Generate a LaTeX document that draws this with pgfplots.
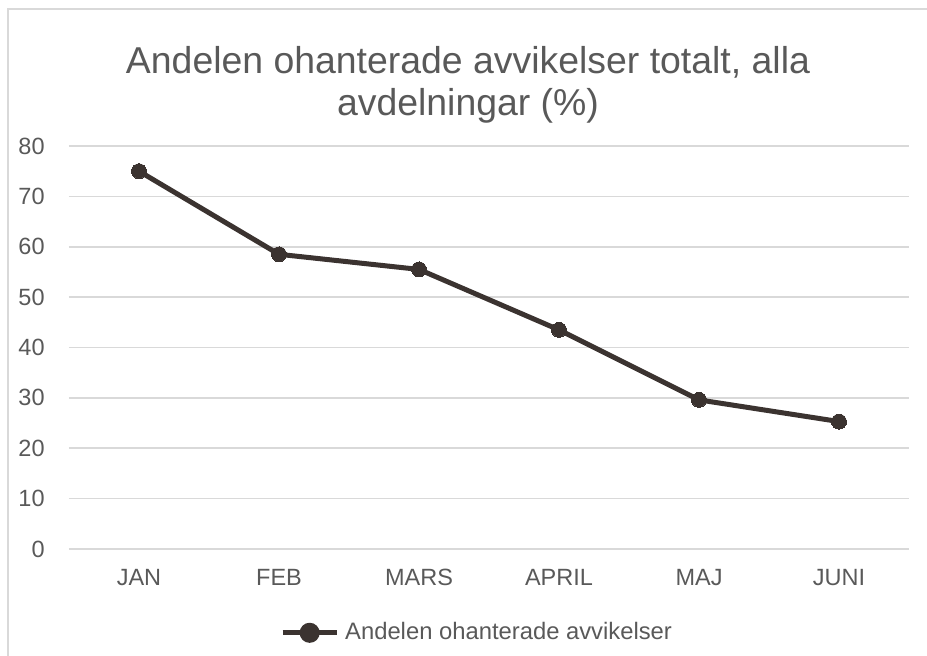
\documentclass[border=0pt]{standalone}
\usepackage{fontspec}
\setmainfont{Liberation Sans}
\usepackage{pgfplots}
\pgfplotsset{compat=1.18}

\definecolor{linecol}{HTML}{3B3330}
\definecolor{txtgray}{HTML}{595959}
\definecolor{gridgray}{HTML}{D9D9D9}

\begin{document}
\begin{tikzpicture}
% page = 927x656 px at 0.5pt per px
\useasboundingbox (0,0) rectangle (463.5pt,328pt);
\begin{scope}
  \clip (0,0) rectangle (463.5pt,328pt);
  \draw[gridgray, line width=1pt] (4pt,-10pt) rectangle (475pt,323.5pt);
\end{scope}

% title
\node[anchor=base, font=\fontsize{18.7}{22}\selectfont, text=txtgray] at (234pt,291pt)
  {Andelen ohanterade avvikelser totalt, alla};
\node[anchor=base, font=\fontsize{18.7}{22}\selectfont, text=txtgray] at (234pt,270pt)
  {avdelningar (\%)};

\begin{axis}[
  at={(34.5pt,53.5pt)}, anchor=south west,
  width=420pt, height=201.5pt, scale only axis,
  xmin=-0.5, xmax=5.5, ymin=0, ymax=80,
  xtick={0,...,5},
  xticklabels={JAN,FEB,MARS,APRIL,MAJ,JUNI},
  ytick={0,10,...,80},
  axis line style={draw=none},
  major tick length=0pt,
  ymajorgrids,
  grid style={gridgray, line width=0.75pt},
  tick label style={font=\fontsize{11.75}{14}\selectfont, text=txtgray},
  yticklabel style={anchor=east, inner sep=0pt, xshift=-12pt},
  xticklabel style={anchor=north, inner sep=0pt, yshift=-10pt},
  /pgf/number format/assume math mode=true,
  clip=false,
  legend style={at={(0.487,-0.208)}, anchor=center, draw=none, fill=none,
    font=\fontsize{11.9}{14}\selectfont, text=txtgray,
    inner sep=0pt, column sep=1pt},
  legend cell align=left,
  legend image code/.code={
    \draw[linecol, line width=2.5pt] (0pt,0pt) -- (27pt,0pt);
    \fill[linecol] (13.5pt,0pt) circle (3.75pt);
  },
]
\addplot[linecol, line width=2.5pt, mark=*, mark size=3.75pt,
  mark options={fill=linecol, draw=linecol, line width=0pt}]
  coordinates {(0,75) (1,58.5) (2,55.5) (3,43.5) (4,29.6) (5,25.3)};
\addlegendentry{Andelen ohanterade avvikelser}
\end{axis}
\end{tikzpicture}
\end{document}
